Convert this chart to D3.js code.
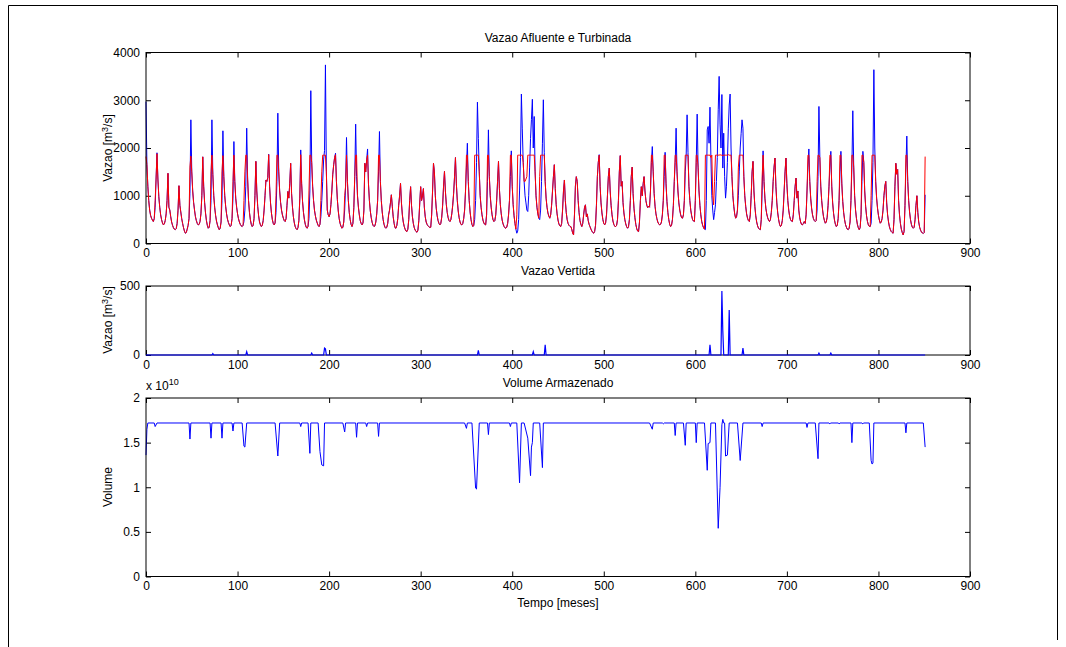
<!DOCTYPE html>
<html lang="pt">
<head>
<meta charset="UTF-8">
<script src="https://d3js.org/d3.v7.min.js"></script>
<title>Vazao Afluente e Turbinada</title>
<style>
  body { margin: 0; background: #fff; }
  text { font-family: Arial, "Liberation Sans", Helvetica, sans-serif; font-size: 12px; fill: #000; }
  .tick line { stroke: #000; }
</style>
</head>
<body>
<svg id="fig" width="1066" height="647"></svg>
<script>

// vazao afluente (m3/s), um valor por mes, 0..851
const vazaoAfluente = [
  2970,1650,1200,900,700,590,530,490,460,520,760,1350,
  1900,1350,980,760,600,500,430,390,410,480,620,900,
  1470,760,700,560,450,380,330,300,290,310,420,700,
  1210,800,660,520,420,330,260,215,230,300,380,520,1050,
  2590,1500,1100,860,700,560,480,420,390,400,460,620,1000,
  1815,1200,860,640,480,380,320,340,480,900,
  2590,1450,1000,760,590,470,390,330,290,320,450,900,
  2360,1400,1000,780,620,510,440,390,355,380,520,950,
  2135,1300,950,760,620,520,450,400,370,355,380,460,700,1200,
  2415,1350,900,650,500,400,355,380,520,1000,
  1720,1100,780,580,450,390,355,380,480,700,1000,1330,1300,1380,
  1870,1200,850,640,500,420,390,430,650,1300,
  2730,1500,1100,860,700,600,530,480,460,520,800,1090,950,1250,
  1680,1050,760,560,430,350,310,290,330,480,950,
  1960,1250,880,650,500,400,340,320,360,520,1100,
  3200,1700,1200,900,700,580,490,430,380,355,400,560,900,1300,1750,1950,
  3740,1500,700,600,560,620,820,1100,1450,1650,1800,
  1890,1300,920,680,520,420,360,320,340,450,700,1200,
  2220,1300,900,650,500,400,355,420,750,1400,
  2500,1400,1000,760,600,480,420,390,430,700,1680,1500,1750,
  1980,1250,900,680,540,440,380,355,370,450,620,900,1500,
  2345,1300,900,660,500,400,340,320,340,420,600,700,850,
  1020,780,560,420,330,320,380,520,800,1000,
  1260,850,600,450,360,300,260,250,300,500,900,
  1190,800,560,420,330,280,250,235,280,480,850,
  1190,900,1000,1150,760,560,450,400,370,350,335,340,600,1100,
  1680,1500,1000,740,580,480,420,390,420,550,800,1200,
  1510,1100,820,650,540,480,460,500,620,800,1050,1400,
  1800,1250,900,680,540,450,400,390,420,520,700,1100,1600,
  2100,1300,900,660,500,400,355,380,500,900,1700,
  2960,2200,1500,1000,760,600,490,430,400,390,600,1300,
  2380,1400,1000,760,600,500,460,480,600,900,1300,
  1720,1150,820,620,490,410,360,330,320,340,420,600,900,1400,
  1940,1200,820,580,420,300,215,260,500,1100,1800,
  3130,2400,1700,1300,1000,850,700,670,1000,1600,2200,2600,
  3020,2000,2660,1500,1000,760,620,530,500,700,1300,2100,
  3010,1900,1300,950,760,640,570,530,600,800,1100,1400,
  1650,1150,820,620,490,410,370,355,420,700,1100,
  1330,900,650,500,420,380,360,355,300,220,180,600,1200,
  1400,1300,900,650,480,400,355,420,600,760,
  810,560,620,480,400,350,300,260,230,215,250,380,800,1400,1700,
  1860,1200,850,640,500,420,390,430,600,1000,1400,
  1580,1100,800,600,470,400,360,355,380,500,900,1500,
  1840,1200,1300,860,640,500,410,350,320,350,500,900,1400,
  1600,1050,740,540,400,310,260,250,450,900,
  1190,1000,1250,1400,1100,900,800,750,780,760,1100,1700,
  2030,1500,1050,780,620,520,450,410,390,400,450,600,900,1400,
  1910,1250,880,650,500,400,355,380,500,800,1300,1700,
  2415,1500,1100,850,700,600,540,530,600,900,1500,1850,
  2695,1900,1200,900,700,580,500,470,460,900,1700,
  2710,1600,1100,800,600,460,380,330,300,290,900,2380,2450,2100,
  2855,1800,1000,700,500,650,810,1300,1800,2800,
  3500,2500,2000,3120,1580,2310,1400,950,1200,1700,2400,2900,
  3130,2000,1400,1000,780,620,530,560,700,1000,1500,2000,2300,
  2590,2415,1400,1000,780,620,530,480,460,600,1000,1500,
  1720,1100,780,580,450,370,320,300,290,500,1100,
  1940,1300,950,740,620,540,490,460,500,650,900,1300,1600,
  1790,1200,850,640,500,400,355,380,480,700,1100,1500,
  1790,1250,900,700,570,500,470,460,600,900,1200,
  1370,950,1100,700,540,450,400,390,420,460,420,600,1100,1600,
  1980,1300,950,740,600,520,480,460,480,700,1400,
  2870,1800,1200,900,700,560,480,425,450,550,800,1200,1600,
  1930,1200,850,630,490,400,355,380,520,900,1500,
  1930,1250,880,650,500,400,340,300,290,320,450,900,1600,
  2780,1600,1000,700,520,400,330,290,330,600,1300,
  1930,1700,1100,780,580,460,390,360,355,420,900,1700,
  3640,2000,1300,950,740,590,490,425,450,520,700,1000,1200,
  1300,850,600,450,350,290,250,230,215,500,1200,
  1680,1450,1550,900,600,420,300,230,180,250,800,1600,
  2250,1300,900,660,500,400,340,320,340,500,800,
  1000,650,450,340,280,240,220,210,230,1020
];

// vazao turbinada (m3/s), mesmos meses
const vazaoTurbinada = [
  1820,1650,1200,900,700,590,530,490,460,520,900,1350,
  1880,1350,980,760,600,500,430,390,410,480,620,900,
  1470,760,700,560,450,380,330,300,290,310,420,700,
  1210,800,660,520,420,330,260,215,230,300,380,520,1600,
  1830,1500,1100,860,700,560,480,420,390,400,460,620,1000,
  1815,1200,860,640,480,380,320,340,480,1500,
  1850,1450,1000,760,590,470,390,330,290,320,450,1500,
  1840,1400,1000,780,620,510,440,390,355,380,520,1300,
  1850,1300,950,760,620,520,450,400,370,355,380,900,1500,1850,
  1850,1350,900,650,500,400,355,380,520,1000,
  1720,1100,780,580,450,390,355,380,480,700,1000,1330,1300,1380,
  1860,1200,850,640,500,420,390,430,1000,1850,
  1850,1500,1100,860,700,600,530,480,460,520,800,1090,950,1250,
  1680,1050,760,560,430,350,310,290,330,480,950,
  1860,1250,880,650,500,400,340,320,360,1100,1850,
  1850,1700,1200,900,700,580,490,430,380,355,400,900,1500,1850,1850,1850,
  1850,1500,700,600,560,620,820,1100,1450,1650,1800,
  1860,1300,920,680,520,420,360,320,340,450,1000,1200,
  1850,1300,900,650,500,400,355,420,750,1400,
  1850,1850,1000,760,600,480,420,390,430,700,1680,1500,1750,
  1850,1250,900,680,540,440,380,355,370,450,620,900,1850,
  1850,1300,900,660,500,400,340,320,340,420,600,700,850,
  1020,780,560,420,330,320,380,520,800,1000,
  1260,850,600,450,360,300,260,250,300,500,900,
  1190,800,560,420,330,280,250,235,280,480,850,
  1190,900,1000,1150,760,560,450,400,370,350,335,340,600,1100,
  1680,1500,1000,740,580,480,420,390,420,550,800,1200,
  1510,1100,820,650,540,480,460,500,620,800,1050,1400,
  1800,1250,900,680,540,450,400,390,420,520,700,1100,1850,
  1850,1300,900,660,500,400,355,380,1850,1850,1850,
  1850,1850,1500,1000,760,600,490,430,400,390,600,1850,
  1850,1400,1000,760,600,500,460,480,600,900,1300,
  1720,1150,820,620,490,410,360,330,320,340,420,600,900,1850,
  1850,1200,820,580,420,300,600,1850,1850,1850,1850,
  1850,1850,1700,1300,1300,1350,1400,1850,1850,1850,1850,1850,
  1850,1850,1850,1500,1000,760,620,530,1400,1850,1850,1850,
  1850,1850,1300,950,760,640,570,530,600,800,1100,1400,
  1650,1150,820,620,490,410,370,355,420,700,1100,
  1330,900,650,500,420,380,360,355,300,220,180,600,1200,
  1400,1300,900,650,480,400,355,420,600,760,
  810,560,620,480,400,350,300,260,230,215,250,380,800,1400,1700,
  1850,1200,850,640,500,420,390,430,600,1000,1400,
  1580,1100,800,600,470,400,360,355,380,500,900,1500,
  1840,1200,1300,860,640,500,410,350,320,350,500,900,1400,
  1600,1050,740,540,400,310,260,250,450,900,
  1190,1000,1250,1400,1100,900,800,750,780,760,1100,1850,
  1850,1500,1050,780,620,520,450,410,390,400,450,600,900,1850,
  1850,1250,880,650,500,400,355,380,500,800,1300,1850,
  1850,1500,1100,850,700,600,540,530,600,900,1850,1850,
  1850,1850,1200,900,700,580,500,470,460,900,1850,
  1850,1600,1100,800,600,460,380,330,300,1850,1850,1850,1850,1850,
  1850,1800,1850,1000,810,1300,1850,1850,1850,1850,
  1850,1860,1850,1850,1840,1850,1850,1850,1850,1850,1860,1850,
  1850,1850,1400,1000,780,620,530,560,700,1600,1850,1850,1850,
  1850,1850,1400,1000,780,620,530,480,460,600,1000,1500,
  1720,1100,780,580,450,370,320,300,290,500,1400,
  1850,1300,950,740,620,540,490,460,500,650,900,1300,1600,
  1790,1200,850,640,500,400,355,380,480,700,1100,1500,
  1790,1250,900,700,570,500,470,460,600,900,1200,
  1370,950,1100,700,540,450,400,390,420,460,420,600,1100,1850,
  1850,1300,950,740,600,520,480,460,480,1300,1850,
  1850,1800,1200,900,700,560,480,425,450,550,800,1200,1850,
  1850,1200,850,630,490,400,355,380,520,900,1850,
  1850,1250,880,650,500,400,340,300,290,320,450,900,1850,
  1850,1600,1000,700,520,400,330,290,330,600,1850,
  1850,1700,1100,780,580,460,390,360,355,1000,1850,1850,
  1850,1850,1300,950,740,590,490,425,450,520,700,1000,1200,
  1300,850,600,450,350,290,250,230,215,500,1200,
  1680,1450,1550,900,600,420,300,230,180,250,800,1850,
  1850,1300,900,660,500,400,340,320,340,500,800,
  1000,650,450,340,280,240,220,210,230,1820
];

const vertidaMeses = [0,72,73,74,109,110,111,180,181,182,194,195,196,197,362,363,364,422,423,424,
  435,436,437,615,616,617,628,629,630,631,636,637,638,651,652,653,734,735,736,747,748,749,851];
const vertidaValores = [0,0,10,0,0,24,0,0,14,0,0,50,45,0,0,34,0,0,24,0,
  0,74,0,0,74,0,0,463,175,0,0,326,0,0,50,0,0,14,0,0,14,0,0];

// volume armazenado (x 1e10 m3)
const volumeMeses = [0,1,2,9,10,12,47,48,49,70,71,72,82,83,84,94,95,96,105,107,108,110,
  141,144,146,168,169,170,177,179,180,188,190,192,194,195,215,217,218,229,230,231,240,241,242,
  253,254,255,348,350,351,356,360,361,364,373,374,375,397,398,399,405,408,410,413,417,420,421,422,423,
  430,433,434,550,553,554,564,565,566,577,578,579,587,589,590,600,601,602,610,613,614,616,617,
  622,625,627,629,630,631,632,633,635,637,646,649,652,672,673,674,721,722,723,731,734,735,
  746,747,748,756,757,758,770,771,772,782,783,784,790,792,793,794,795,829,830,831,849,851];
const volumeValores = [1.36,1.65,1.72,1.72,1.68,1.72,1.72,1.54,1.72,1.72,1.55,1.72,1.72,1.55,1.72,1.72,1.63,1.72,1.72,1.46,1.45,1.72,
  1.72,1.35,1.72,1.72,1.68,1.72,1.72,1.38,1.72,1.72,1.40,1.25,1.24,1.72,1.72,1.62,1.72,1.72,1.56,1.72,1.72,1.68,1.72,
  1.72,1.57,1.72,1.72,1.66,1.72,1.72,0.99,0.98,1.72,1.72,1.59,1.72,1.72,1.68,1.72,1.72,1.05,1.72,1.72,1.55,1.13,1.45,1.50,1.72,
  1.72,1.22,1.72,1.72,1.65,1.72,1.72,1.71,1.72,1.72,1.58,1.72,1.72,1.47,1.72,1.72,1.50,1.72,1.72,1.19,1.49,1.50,1.72,
  1.72,0.54,1.00,1.70,1.76,1.72,1.72,1.35,1.36,1.72,1.72,1.30,1.72,1.72,1.68,1.72,1.72,1.67,1.72,1.72,1.32,1.72,
  1.72,1.71,1.72,1.72,1.71,1.72,1.72,1.50,1.72,1.72,1.71,1.72,1.72,1.30,1.26,1.27,1.72,1.72,1.61,1.72,1.72,1.45];

const mesesTicks = [0,100,200,300,400,500,600,700,800,900];
const vazaoTicks = [0,1000,2000,3000,4000];
const vertidaTicks = [0,500];
const volumeTicks = [0,0.5,1,1.5,2];

const svg = d3.select("svg#fig");

// moldura da figura
svg.append("path")
   .attr("d","M8.5,647 L8.5,5.5 L1057.5,5.5 L1057.5,640")
   .attr("fill","none").attr("stroke","#000").attr("stroke-width",1);

const left = 146, right = 970;
const x = d3.scaleLinear().domain([0,900]).range([left,right]);

function painel(top, bottom, yDomain, yTicks, yFormat){
  const y = d3.scaleLinear().domain(yDomain).range([bottom, top]);
  const g = svg.append("g");
  g.append("rect").attr("x",left).attr("y",top)
   .attr("width",right-left).attr("height",bottom-top)
   .attr("fill","#fff");

  g.append("g").attr("transform",`translate(0,${bottom})`)
   .call(d3.axisBottom(x).tickValues(mesesTicks).tickSizeInner(-5).tickSizeOuter(0).tickPadding(5))
   .call(a => a.select(".domain").remove());
  g.append("g").attr("transform",`translate(0,${top})`)
   .call(d3.axisTop(x).tickValues(mesesTicks).tickSizeInner(-5).tickSizeOuter(0).tickFormat(""))
   .call(a => a.select(".domain").remove());
  g.append("g").attr("transform",`translate(${left},0)`)
   .call(d3.axisLeft(y).tickValues(yTicks).tickSizeInner(-5).tickSizeOuter(0).tickPadding(6).tickFormat(yFormat))
   .call(a => a.select(".domain").remove());
  g.append("g").attr("transform",`translate(${right},0)`)
   .call(d3.axisRight(y).tickValues(yTicks).tickSizeInner(-5).tickSizeOuter(0).tickFormat(""))
   .call(a => a.select(".domain").remove());

  g.selectAll(".tick text").style("font-size","12px").style("font-family","Arial, 'Liberation Sans', sans-serif");
  return {g, y, top, bottom};
}

function caixa(p){
  p.g.append("rect").attr("x",left).attr("y",p.top)
   .attr("width",right-left).attr("height",p.bottom-p.top)
   .attr("fill","none").attr("stroke","#000").attr("stroke-width",1);
}

// painel 1: afluente e turbinada
const p1 = painel(52.5, 243.5, [0,4000], vazaoTicks, d3.format("d"));
const linha1 = d3.line().x((d,i) => x(i)).y(d => p1.y(d));
p1.g.append("path").datum(vazaoAfluente)
    .attr("fill","none").attr("stroke","#0000ff").attr("stroke-width",1).attr("d",linha1);
p1.g.append("path").datum(vazaoTurbinada)
    .attr("fill","none").attr("stroke","#ff0000").attr("stroke-width",1).attr("d",linha1);
caixa(p1);

// painel 2: vertida
const p2 = painel(286, 355, [0,500], vertidaTicks, d3.format("d"));
caixa(p2);
p2.g.append("path").datum(vertidaMeses.map((m,i) => [m, vertidaValores[i]]))
    .attr("fill","none").attr("stroke","#0000ff").attr("stroke-width",1.2)
    .attr("d", d3.line().x(d => x(d[0])).y(d => p2.y(d[1])));

// painel 3: volume
const p3 = painel(398, 576.5, [0,2], volumeTicks, d => d3.format("")(d));
p3.g.append("path").datum(volumeMeses.map((m,i) => [m, volumeValores[i]]))
    .attr("fill","none").attr("stroke","#0000ff").attr("stroke-width",1)
    .attr("d", d3.line().x(d => x(d[0])).y(d => p3.y(d[1])));
caixa(p3);

// titulos e rotulos
const cx = (left + right) / 2;
svg.append("text").attr("x",cx).attr("y",42).attr("text-anchor","middle").text("Vazao Afluente e Turbinada");
svg.append("text").attr("x",cx).attr("y",275).attr("text-anchor","middle").text("Vazao Vertida");
svg.append("text").attr("x",cx).attr("y",387).attr("text-anchor","middle").text("Volume Armazenado");
svg.append("text").attr("x",cx).attr("y",607).attr("text-anchor","middle").text("Tempo [meses]");

const expo = svg.append("text").attr("x",146).attr("y",390);
expo.append("tspan").text("x 10");
expo.append("tspan").attr("dy",-5).style("font-size","9px").text("10");

function rotuloY(yc, partes){
  const t = svg.append("text").attr("transform",`translate(112,${yc}) rotate(-90)`).attr("text-anchor","middle");
  partes(t);
}
rotuloY(148, t => {
  t.append("tspan").text("Vazao [m");
  t.append("tspan").attr("dy",-4).style("font-size","9px").text("3");
  t.append("tspan").attr("dy",4).text("/s]");
});
rotuloY(320, t => {
  t.append("tspan").text("Vazao [m");
  t.append("tspan").attr("dy",-4).style("font-size","9px").text("3");
  t.append("tspan").attr("dy",4).text("/s]");
});
rotuloY(487, t => t.text("Volume"));

</script>
</body>
</html>
